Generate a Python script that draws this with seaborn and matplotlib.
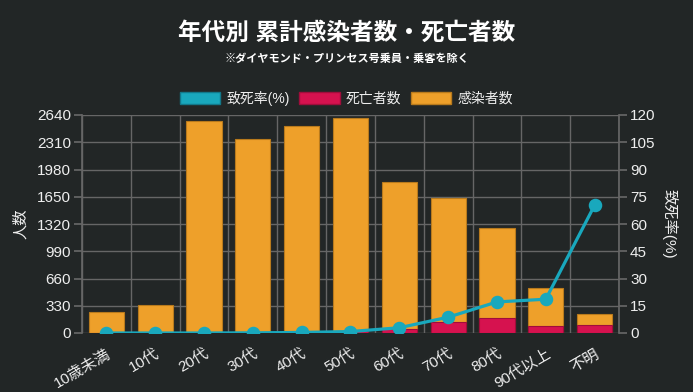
import numpy as np
import pandas as pd
import matplotlib
matplotlib.use("Agg")
import matplotlib.pyplot as plt
from matplotlib.patches import Patch
import seaborn as sns

# data
ages = ["10歳未満", "10代", "20代", "30代", "40代", "50代", "60代", "70代", "80代", "90代以上", "不明"]
infected = [255, 335, 2570, 2343, 2500, 2585, 1773, 1500, 1083, 456, 138]
deaths = [0, 0, 0, 2, 8, 22, 52, 130, 185, 85, 97]
death_rate = [0, 0, 0, 0.1, 0.3, 0.8, 2.9, 8.7, 17.1, 18.6, 70.3]

left_ticks = [0, 330, 660, 990, 1320, 1650, 1980, 2310, 2640]
right_ticks = [0, 15, 30, 45, 60, 75, 90, 105, 120]

BG = "#222626"
ORANGE = "#eea02a"
CRIMSON = "#d6124f"
TEAL = "#19a8bd"
GRID = "#666666"
TXT = "#eeeeee"

sns.set_theme(style="dark")
# Latin/digits in an Arial-like face, Japanese falls through to Noto CJK
plt.rcParams["font.family"] = ["Liberation Sans", "Noto Sans CJK JP", "DejaVu Sans"]

df = pd.DataFrame({"age": ages, "infected": infected, "deaths": deaths, "rate": death_rate})
df["total"] = df["infected"] + df["deaths"]

fig = plt.figure(figsize=(6.93, 3.92), dpi=100, facecolor=BG)
ax = fig.add_axes([82 / 693, 59 / 392, 537 / 693, 218 / 392])
ax.set_facecolor(BG)

# stacked bars: deaths at the bottom, infected stacked on top
sns.barplot(data=df, x="age", y="total", color=ORANGE, width=0.72, saturation=1,
            edgecolor="#b87a1c", linewidth=0.8, ax=ax, zorder=2)
sns.barplot(data=df, x="age", y="deaths", color=CRIMSON, width=0.72, saturation=1,
            edgecolor="#a00d3b", linewidth=0.8, ax=ax, zorder=3)

ax.set_ylim(0, 2640)
ax.set_yticks(left_ticks)
ax.set_xlim(-0.5, len(ages) - 0.5)
ax.set_xticks(np.arange(-0.5, len(ages)), minor=True)
ax.grid(True, which="minor", axis="x", color=GRID, linewidth=1, zorder=0)
ax.grid(True, which="major", axis="y", color=GRID, linewidth=1, zorder=0)
ax.grid(False, which="major", axis="x")
ax.set_axisbelow(True)
for s in ax.spines.values():
    s.set_visible(False)
ax.spines["left"].set_visible(True)
ax.spines["left"].set_color(GRID)
ax.tick_params(axis="y", colors=TXT, labelsize=11, length=6, color=GRID, pad=2)
ax.tick_params(axis="x", which="major", length=0, labelsize=11, colors=TXT, pad=10)
ax.tick_params(axis="x", which="minor", length=7, color=GRID, width=1)
plt.setp(ax.get_xticklabels(), rotation=30, ha="right", rotation_mode="anchor")
ax.set_xlabel("")
ax.set_ylabel("人数", color=TXT, fontsize=11, labelpad=6)

# death rate line on the right axis
ax2 = ax.twinx()
sns.pointplot(data=df, x="age", y="rate", color=TEAL, markers="o", markersize=8,
              linewidth=2.3, ax=ax2, zorder=5)
ax2.set_xlim(-0.5, len(ages) - 0.5)
ax2.set_ylim(0, 120)
ax2.set_yticks(right_ticks)
for s in ax2.spines.values():
    s.set_visible(False)
ax2.spines["right"].set_visible(True)
ax2.spines["right"].set_color(GRID)
ax2.tick_params(axis="y", colors=TXT, labelsize=11, length=6, color=GRID, pad=2)
ax2.set_ylabel("致死率(%)", color=TXT, fontsize=11, rotation=270, labelpad=16)
ax2.grid(False)
ax2.set_xlabel("")

fig.text(0.5, 1 - 33 / 392, "年代別 累計感染者数・死亡者数", ha="center", va="center",
         color="white", fontsize=17, fontweight="bold")
fig.text(0.5, 1 - 59 / 392, "※ダイヤモンド・プリンセス号乗員・乗客を除く", ha="center", va="center",
         color="white", fontsize=8, fontweight="bold")

handles = [Patch(facecolor=TEAL, edgecolor="#12788a"),
           Patch(facecolor=CRIMSON, edgecolor="#a00d3b"),
           Patch(facecolor=ORANGE, edgecolor="#b87a1c")]
fig.legend(handles, ["致死率(%)", "死亡者数", "感染者数"], loc="center",
           bbox_to_anchor=(0.5, 1 - 98 / 392), ncol=3, frameon=False,
           fontsize=10, labelcolor=TXT, handlelength=2.9, handleheight=0.95,
           handletextpad=0.45, columnspacing=0.7)

fig.savefig("out.png", dpi=100, facecolor=BG)
